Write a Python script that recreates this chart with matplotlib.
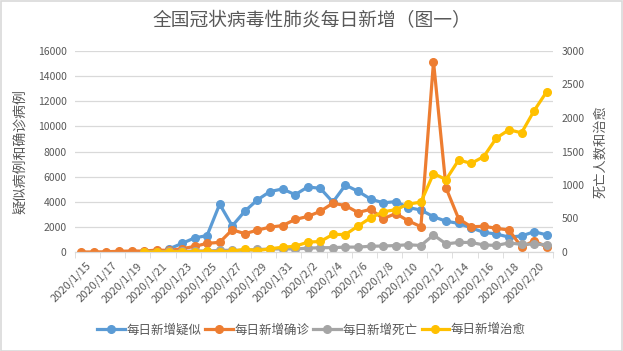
import numpy as np
import pandas as pd
import matplotlib
matplotlib.use('Agg')
import matplotlib.pyplot as plt
from matplotlib.patches import Rectangle
from matplotlib.ticker import MultipleLocator, FixedLocator
from matplotlib.transforms import ScaledTranslation

plt.rcParams['font.family'] = ['Noto Sans CJK SC', 'DejaVu Sans']

# dates 2020/1/15 .. 2020/2/21
dates = pd.date_range('2020-01-15', '2020-02-21')
date_labels = [f'{d.year}/{d.month}/{d.day}' for d in dates]

nan = np.nan
# 每日新增疑似 (left axis)
suspected = [nan, nan, nan, nan, nan, nan, nan, 257, 680, 1118, 1309, 3806, 2077, 3248,
             4148, 4812, 5019, 4562, 5173, 5072, 3971, 5328, 4833, 4214, 3916, 4008,
             3536, 3342, 2807, 2450, 2277, 1918, 1563, 1432, 1185, 1277, 1614, 1361]
# 每日新增确诊 (left axis)
confirmed = [0, 4, 17, 59, 77, 77, 149, 131, 259, 444, 688, 769, 1771, 1459,
             1737, 1982, 2102, 2590, 2829, 3235, 3887, 3694, 3143, 3399, 2656, 3062,
             2478, 2015, 15152, 5090, 2641, 2009, 2048, 1886, 1749, 394, 889, 397]
# 每日新增死亡 (right axis)
deaths = [nan, nan, nan, nan, nan, 0, 3, 8, 8, 16, 15, 24, 26, 26,
          38, 43, 46, 45, 57, 64, 65, 73, 73, 86, 89, 97,
          108, 97, 254, 121, 143, 142, 105, 98, 136, 114, 118, 109]
# 每日新增治愈 (right axis)
cured = [nan, nan, nan, nan, nan, 0, 0, 3, 6, 4, 11, 2, 9, 43,
         21, 47, 72, 85, 147, 157, 262, 261, 387, 510, 600, 632,
         716, 744, 1171, 1081, 1373, 1323, 1425, 1701, 1824, 1779, 2109, 2393]

c_blue = '#5B9BD5'
c_orange = '#ED7D31'
c_grey = '#A5A5A5'
c_yellow = '#FFC000'
txt = '#595959'

fig = plt.figure(figsize=(6.23, 3.51), dpi=100)
fig.patches.append(Rectangle((0.001, 0.001), 0.997, 0.996, transform=fig.transFigure,
                             fill=False, edgecolor='#d9d9d9', linewidth=1.2))

ax = fig.add_axes([75 / 623, 99 / 351, 478 / 623, 201 / 351])
ax2 = ax.twinx()

x = np.arange(len(dates))
style = dict(linewidth=2.3, marker='o', markersize=5.5)
l1, = ax.plot(x, suspected, color=c_blue, label='每日新增疑似', **style)
l2, = ax.plot(x, confirmed, color=c_orange, label='每日新增确诊', **style)
l3, = ax2.plot(x, deaths, color=c_grey, label='每日新增死亡', **style)
l4, = ax2.plot(x, cured, color=c_yellow, label='每日新增治愈', **style)

ax.set_xlim(-0.5, len(dates) - 0.5)
ax.set_ylim(0, 16000)
ax2.set_ylim(0, 3000)
ax.yaxis.set_major_locator(MultipleLocator(2000))
ax2.yaxis.set_major_locator(MultipleLocator(500))

ax.grid(axis='y', color='#d9d9d9', linewidth=0.9)
ax.set_axisbelow(True)
for a in (ax, ax2):
    for s in ('top', 'left', 'right'):
        a.spines[s].set_visible(False)
    a.spines['bottom'].set_color('#d9d9d9')
    a.tick_params(axis='y', colors=txt, labelsize=7.5, length=0, pad=6)

# x ticks: labels every 2 days, tick marks on boundaries
ax.set_xticks(x[::2])
ax.set_xticklabels(date_labels[::2], rotation=45, ha='right', va='top',
                   rotation_mode='anchor', fontsize=8, color=txt)
ax.tick_params(axis='x', which='major', length=0, pad=6)
shift = ScaledTranslation(5 / 100, 0, fig.dpi_scale_trans)
for lab in ax.get_xticklabels():
    lab.set_transform(lab.get_transform() + shift)
ax.xaxis.set_minor_locator(FixedLocator(np.arange(-0.5, len(dates), 2)))
ax.tick_params(axis='x', which='minor', length=4, color='#d9d9d9')
ax2.tick_params(axis='x', length=0)

ax.set_ylabel('疑似病例和确诊病例', fontsize=10, color=txt, labelpad=8)
ax2.set_ylabel('死亡人数和治愈', fontsize=9.5, color=txt, rotation=90, labelpad=7)

fig.text(0.5, 0.94, '全国冠状病毒性肺炎每日新增（图一）', ha='center', va='center',
         fontsize=13.5, color=txt)

fig.legend(handles=[l1, l2, l3, l4], loc='center', bbox_to_anchor=(0.5, 0.06),
           ncol=4, frameon=False, fontsize=9, labelcolor=txt, handlelength=2.2,
           handletextpad=0.15, columnspacing=0.3)

fig.savefig('out.png', dpi=100)
